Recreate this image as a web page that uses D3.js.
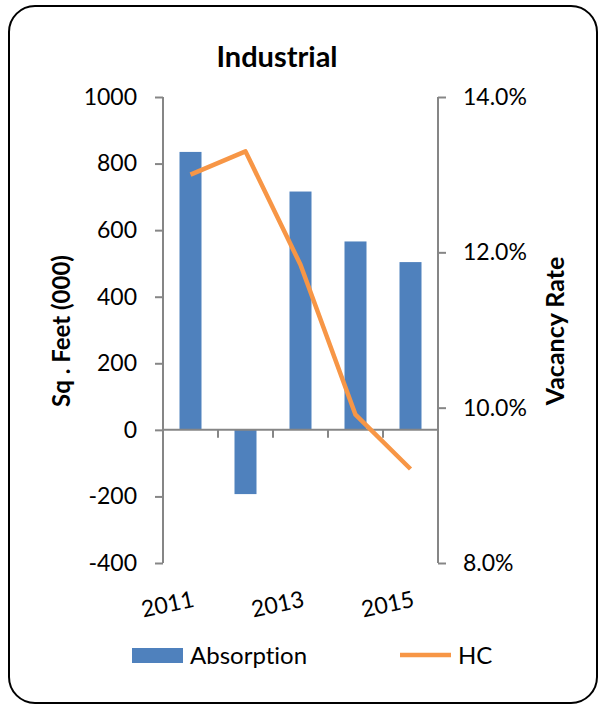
<!DOCTYPE html>
<html>
<head>
<meta charset="utf-8">
<script src="https://cdn.jsdelivr.net/npm/d3@7"></script>
<style>
  body { margin: 0; background: #fff; }
  text { font-family: Lato, "Open Sans", sans-serif; fill: #000; font-variant-ligatures: none; }
</style>
</head>
<body>
<div id="chart"></div>
<script>
// data
let years = ["2011", "2012", "2013", "2014", "2015"];
let absorption = [835, -193, 716, 566, 504];
let hc = [13.0, 13.3, 11.84, 9.91, 9.21];
let left_ticks = [-400, -200, 0, 200, 400, 600, 800, 1000];
let right_ticks = [8, 10, 12, 14];
let shown_years = ["2011", "2013", "2015"];

let width = 600;
let height = 705;
let bar_color = "#4F81BD";
let line_color = "#F79646";
let axis_color = "#868686";

// plot area
let x0 = 163, x1 = 438, y0 = 97, y1 = 563;

let svg = d3.select("#chart").append("svg")
    .attr("width", width)
    .attr("height", height);

// frame
svg.append("rect")
    .attr("x", 9).attr("y", 6)
    .attr("width", 588).attr("height", 697)
    .attr("rx", 26).attr("ry", 26)
    .style("fill", "white")
    .style("stroke", "black")
    .style("stroke-width", 2);

let x = d3.scaleBand().domain(years).range([x0, x1])
    .paddingInner(0.6).paddingOuter(0.3);
let y = d3.scaleLinear().domain([-400, 1000]).range([y1, y0]);
let y2 = d3.scaleLinear().domain([8, 14]).range([y1, y0]);

// title
svg.append("text")
    .attr("x", 277).attr("y", 67)
    .attr("text-anchor", "middle")
    .style("font-size", "29px")
    .style("font-weight", "bold")
    .text("Industrial");

// left axis (plain hyphen for negatives)
let gl = svg.append("g")
    .attr("transform", "translate(" + x0 + ",0)")
    .call(d3.axisLeft(y).tickValues(left_ticks).tickSize(8).tickPadding(18).tickFormat(d => String(d)));
gl.selectAll("path, line").style("stroke", axis_color).style("stroke-width", 2);
gl.select(".domain").attr("d", "M0," + y0 + "V" + y1);
gl.selectAll("text").style("font-size", "23px").style("font-family", "Lato, sans-serif").style("fill", "#000");

// right axis
let gr = svg.append("g")
    .attr("transform", "translate(" + x1 + ",0)")
    .call(d3.axisRight(y2).tickValues(right_ticks).tickSize(8).tickPadding(17).tickFormat(d => d.toFixed(1) + "%"));
gr.selectAll("path, line").style("stroke", axis_color).style("stroke-width", 2);
gr.select(".domain").attr("d", "M0," + y0 + "V" + y1);
gr.selectAll("text").style("font-size", "23px").style("font-family", "Lato, sans-serif").style("fill", "#000");

// axis titles
svg.append("text")
    .attr("transform", "translate(70,331) rotate(-90)")
    .attr("text-anchor", "middle")
    .style("font-size", "24px")
    .style("font-weight", "bold")
    .text("Sq . Feet (000)");
svg.append("text")
    .attr("transform", "translate(564,331) rotate(-90)")
    .attr("text-anchor", "middle")
    .style("font-size", "25px")
    .style("font-weight", "bold")
    .text("Vacancy Rate");

// bars
svg.selectAll(".bar")
    .data(years)
    .enter()
    .append("rect")
    .attr("class", "bar")
    .attr("x", d => x(d))
    .attr("width", x.bandwidth())
    .attr("y", (d, i) => y(Math.max(0, absorption[i])))
    .attr("height", (d, i) => Math.abs(y(absorption[i]) - y(0)))
    .style("fill", bar_color);

// category axis on zero line
let gx = svg.append("g").attr("transform", "translate(0," + y(0) + ")");
gx.append("line")
    .attr("x1", x0).attr("x2", x1)
    .style("stroke", axis_color).style("stroke-width", 2);
let bounds = years.map((d, i) => x0 + i * x.step());
bounds.push(x1);
gx.selectAll(".ctick")
    .data(bounds)
    .enter()
    .append("line")
    .attr("class", "ctick")
    .attr("x1", d => d).attr("x2", d => d)
    .attr("y1", 0).attr("y2", 8)
    .style("stroke", axis_color).style("stroke-width", 2);

// x labels (every other)
svg.selectAll(".xlab")
    .data(shown_years)
    .enter()
    .append("text")
    .attr("class", "xlab")
    .attr("text-anchor", "end")
    .attr("transform", d => "translate(" + (x(d) + x.bandwidth() / 2 + 2) + ",593) rotate(-12)")
    .attr("dy", "0.6em")
    .style("font-size", "23px")
    .text(d => d);

// line
let line = d3.line()
    .x((d, i) => x(years[i]) + x.bandwidth() / 2)
    .y(d => y2(d));
svg.append("path")
    .datum(hc)
    .attr("d", line)
    .style("fill", "none")
    .style("stroke", line_color)
    .style("stroke-width", 4.5)
    .style("stroke-linejoin", "round");

// legend
svg.append("rect")
    .attr("x", 132).attr("y", 648)
    .attr("width", 51).attr("height", 15)
    .style("fill", bar_color);
svg.append("text")
    .attr("x", 190).attr("y", 656)
    .attr("dy", "0.35em")
    .style("font-size", "24px")
    .text("Absorption");
svg.append("line")
    .attr("x1", 400).attr("x2", 451)
    .attr("y1", 655).attr("y2", 655)
    .style("stroke", line_color)
    .style("stroke-width", 4.5);
svg.append("text")
    .attr("x", 458).attr("y", 656)
    .attr("dy", "0.35em")
    .style("font-size", "24px")
    .text("HC");
</script>
</body>
</html>
